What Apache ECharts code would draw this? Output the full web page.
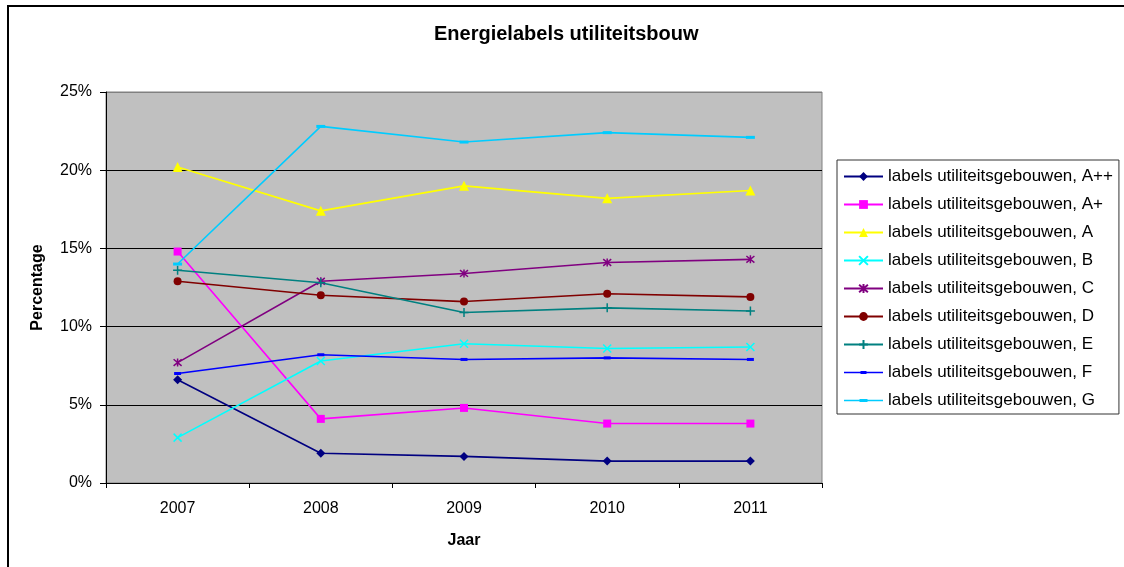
<!DOCTYPE html>
<html>
<head>
<meta charset="utf-8">
<title>Energielabels utiliteitsbouw</title>
<script src="https://cdn.jsdelivr.net/npm/echarts@6/dist/echarts.min.js"></script>
<style>
  html, body { margin: 0; padding: 0; background: #fff; }
  #chart { width: 1124px; height: 567px; }
</style>
</head>
<body>
<div id="chart"></div>
<script>
// Years on the category axis
const years = ['2007', '2008', '2009', '2010', '2011'];

// Share of energy labels per class (percent)
const labelAPlusPlus = [6.6, 1.9, 1.7, 1.4, 1.4];
const labelAPlus     = [14.8, 4.1, 4.8, 3.8, 3.8];
const labelA         = [20.2, 17.4, 19.0, 18.2, 18.7];
const labelB         = [2.9, 7.8, 8.9, 8.6, 8.7];
const labelC         = [7.7, 12.9, 13.4, 14.1, 14.3];
const labelD         = [12.9, 12.0, 11.6, 12.1, 11.9];
const labelE         = [13.6, 12.8, 10.9, 11.2, 11.0];
const labelF         = [7.0, 8.2, 7.9, 8.0, 7.9];
const labelG         = [14.0, 22.8, 21.8, 22.4, 22.1];

// Y axis range and step (percent)
const yMin = 0, yMax = 25, yStep = 5;

const FONT = '"Liberation Sans", Arial, sans-serif';

// Stroke-only marker shapes
const SYM_CROSS = 'path://M0 0L10 10M10 0L0 10';
const SYM_STAR  = 'path://M0 0L10 10M10 0L0 10M5 -1L5 11';
const SYM_PLUS  = 'path://M5 0L5 10M0 5L10 5';

// Legend icons for the dash markers: a thin line with a short bar on it,
// laid out in a 39 x 11 box (the move-to points fix the box size)
const LEG_DASH_F = 'path://M0 0M39 11M0 4.7H39V6.3H0ZM16.5 4H22.5V7H16.5Z';
const LEG_DASH_G = 'path://M0 0M39 11M0 4.7H39V6.3H0ZM15.5 4H23.5V7H15.5Z';

function makeSeries(name, data, color, symbol, size, stroked) {
  return {
    name: name,
    type: 'line',
    data: data,
    symbol: symbol,
    symbolSize: size,
    symbolKeepAspect: false,
    showAllSymbol: true,
    lineStyle: { color: color, width: 1.6 },
    itemStyle: {
      color: color,
      borderColor: color,
      borderWidth: stroked ? 1.5 : 0
    },
    emphasis: { disabled: true },
    animation: false
  };
}

const names = [
  'labels utiliteitsgebouwen, A++',
  'labels utiliteitsgebouwen, A+',
  'labels utiliteitsgebouwen, A',
  'labels utiliteitsgebouwen, B',
  'labels utiliteitsgebouwen, C',
  'labels utiliteitsgebouwen, D',
  'labels utiliteitsgebouwen, E',
  'labels utiliteitsgebouwen, F',
  'labels utiliteitsgebouwen, G'
];

const series = [
  makeSeries(names[0], labelAPlusPlus, '#000080', 'diamond', 9, false),
  makeSeries(names[1], labelAPlus, '#FF00FF', 'rect', 8, false),
  makeSeries(names[2], labelA, '#FFFF00', 'triangle', 10, false),
  makeSeries(names[3], labelB, '#00FFFF', SYM_CROSS, 8, true),
  makeSeries(names[4], labelC, '#800080', SYM_STAR, 8, true),
  makeSeries(names[5], labelD, '#800000', 'circle', 8, false),
  makeSeries(names[6], labelE, '#008080', SYM_PLUS, 9, true),
  makeSeries(names[7], labelF, '#0000FF', 'rect', [7, 3], false),
  makeSeries(names[8], labelG, '#00CCFF', 'rect', [9, 3], false)
];

const legendData = names.map(function (n, i) {
  if (i === 7) return { name: n, icon: LEG_DASH_F };
  if (i === 8) return { name: n, icon: LEG_DASH_G };
  return { name: n };
});

const chart = echarts.init(document.getElementById('chart'), null, { renderer: 'canvas' });

chart.setOption({
  animation: false,
  backgroundColor: '#ffffff',
  textStyle: { fontFamily: FONT },
  title: {
    text: 'Energielabels utiliteitsbouw',
    left: 434,
    top: 24,
    padding: 0,
    textStyle: { fontFamily: FONT, fontWeight: 'bold', fontSize: 20, color: '#000' }
  },
  graphic: [
    {
      type: 'rect',
      silent: true,
      z: 100,
      shape: { x: 8, y: 6, width: 1300, height: 800 },
      style: { fill: 'none', stroke: '#000', lineWidth: 2 }
    }
  ],
  legend: {
    data: legendData,
    orient: 'vertical',
    left: 837,
    top: 160,
    padding: [8, 6, 5, 6],
    itemWidth: 39,
    itemHeight: 11,
    itemGap: 11,
    symbolKeepAspect: true,
    backgroundColor: '#ffffff',
    borderColor: '#333',
    borderWidth: 1,
    borderRadius: 0,
    selectedMode: false,
    textStyle: { fontFamily: FONT, fontSize: 17, color: '#000', lineHeight: 16 }
  },
  grid: {
    left: 106,
    top: 92,
    width: 716,
    height: 391,
    show: true,
    backgroundColor: '#C0C0C0',
    borderColor: '#808080',
    borderWidth: 1,
    containLabel: false
  },
  xAxis: {
    type: 'category',
    data: years,
    boundaryGap: true,
    name: 'Jaar',
    nameLocation: 'middle',
    nameGap: 50,
    nameTextStyle: { fontFamily: FONT, fontWeight: 'bold', fontSize: 16, color: '#000' },
    axisLine: { show: true, lineStyle: { color: '#000', width: 1 } },
    axisTick: { show: true, alignWithLabel: false, length: 5, lineStyle: { color: '#000' } },
    axisLabel: { margin: 18, fontFamily: FONT, fontSize: 16, color: '#000' },
    splitLine: { show: false }
  },
  yAxis: {
    type: 'value',
    min: yMin,
    max: yMax,
    interval: yStep,
    name: 'Percentage',
    nameLocation: 'middle',
    nameGap: 60,
    nameRotate: 90,
    nameTextStyle: { fontFamily: FONT, fontWeight: 'bold', fontSize: 16, color: '#000' },
    axisLine: { show: true, lineStyle: { color: '#000', width: 1 } },
    axisTick: { show: true, length: 6, lineStyle: { color: '#000' } },
    axisLabel: {
      margin: 14,
      fontFamily: FONT,
      fontSize: 16,
      color: '#000',
      formatter: function (v) { return v + '%'; }
    },
    splitLine: {
      show: true,
      lineStyle: { color: ['#000', '#000', '#000', '#000', '#000', '#808080'], width: 1 }
    }
  },
  series: series
});
</script>
</body>
</html>
